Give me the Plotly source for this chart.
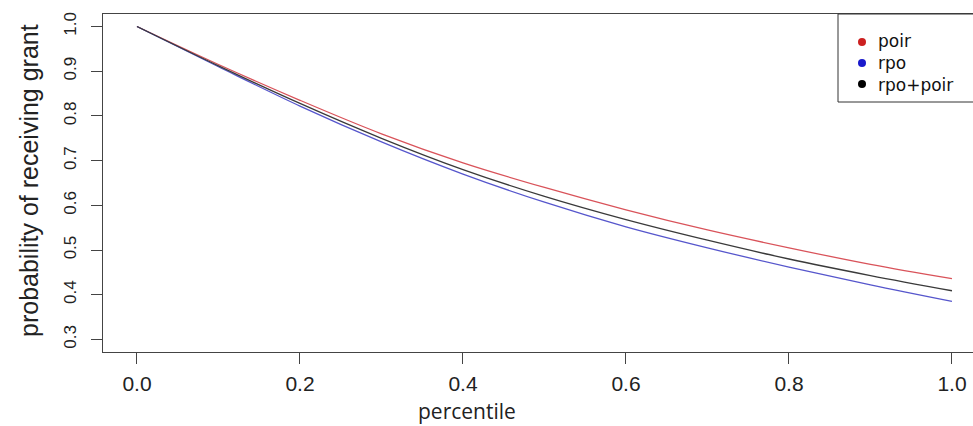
import plotly.graph_objects as go

percentile = [0.0, 0.1, 0.2, 0.3, 0.4, 0.5, 0.6, 0.7, 0.8, 0.9, 1.0]
poir = [1.000, 0.915, 0.835, 0.760, 0.695, 0.640, 0.590, 0.545, 0.505, 0.468, 0.436]
rpo = [1.000, 0.910, 0.822, 0.742, 0.670, 0.607, 0.552, 0.505, 0.462, 0.422, 0.385]
rpo_poir = [1.000, 0.912, 0.828, 0.750, 0.680, 0.620, 0.568, 0.522, 0.480, 0.443, 0.409]

series_names = ["poir", "rpo", "rpo+poir"]
line_colors = ["#d9535a", "#5656cc", "#3a3a3a"]
dot_colors = ["#cc2020", "#1a1acc", "#000000"]

x_ticks = [0.0, 0.2, 0.4, 0.6, 0.8, 1.0]
y_ticks = [0.3, 0.4, 0.5, 0.6, 0.7, 0.8, 0.9, 1.0]

W, H = 973, 426
ML, MR, MT, MB = 103, 0, 14, 74
PW, PH = W - ML - MR, H - MT - MB


def px_x(p):
    return (p - ML) / PW


def px_y(p):
    return (H - MB - p) / PH


fig = go.Figure()
for name, vals, c in zip(series_names, [poir, rpo, rpo_poir], line_colors):
    fig.add_trace(go.Scatter(x=percentile, y=vals, mode="lines", name=name,
                             line=dict(color=c, width=1.3, shape="spline"),
                             showlegend=False))

axis_common = dict(showgrid=False, zeroline=False, showline=True, linecolor="#444",
                   linewidth=1, ticks="outside", ticklen=11, tickcolor="#444",
                   tickwidth=1, automargin=False)

fig.update_xaxes(range=[-0.0417, 1.0258], tickvals=x_ticks,
                 ticktext=[f"{v:.1f}" for v in x_ticks], mirror=True,
                 tickfont=dict(family="Liberation Sans", size=21, color="#222"),
                 ticklabelstandoff=2, ticklabeloverflow="allow", **axis_common)
fig.update_yaxes(range=[0.272, 1.028], tickvals=y_ticks,
                 ticktext=[f"{v:.1f}" for v in y_ticks], tickangle=-90,
                 tickfont=dict(family="Liberation Sans", size=17, color="#222"),
                 ticklabelstandoff=8, **axis_common)

shapes = [dict(type="rect", xref="paper", yref="paper",
               x0=px_x(838), x1=px_x(980), y0=px_y(102), y1=px_y(14),
               line=dict(color="#333", width=1), fillcolor="white", layer="above")]
annotations = [
    dict(text="percentile", xref="paper", yref="paper", x=px_x(467), y=px_y(411),
         xanchor="center", yanchor="middle", showarrow=False,
         font=dict(family="Open Sans", size=21, color="#222")),
    dict(text="probability of receiving grant", xref="paper", yref="paper",
         x=px_x(29), y=px_y(181), xanchor="center", yanchor="middle", textangle=-90,
         showarrow=False, font=dict(family="Liberation Sans", size=25, color="#222")),
    dict(text="<br>".join(series_names), xref="paper", yref="paper", x=px_x(876),
         y=px_y(63), xanchor="left", yanchor="middle", align="left", showarrow=False,
         font=dict(family="DejaVu Sans", size=17, color="#111")),
]
row_y = [42, 63, 84]
for c, ry in zip(dot_colors, row_y):
    shapes.append(dict(type="circle", xref="paper", yref="paper",
                       x0=px_x(858), x1=px_x(866), y0=px_y(ry + 4), y1=px_y(ry - 4),
                       line=dict(color=c, width=0), fillcolor=c, layer="above"))

fig.update_layout(
    width=W, height=H,
    margin=dict(l=ML, r=MR, t=MT, b=MB, autoexpand=False),
    paper_bgcolor="white", plot_bgcolor="white",
    showlegend=False,
    shapes=shapes,
    annotations=annotations,
)

fig.write_html("out.html", config={"displayModeBar": False},
               post_script="document.body.style.margin='0';"
                           "document.body.style.overflow='hidden';")
